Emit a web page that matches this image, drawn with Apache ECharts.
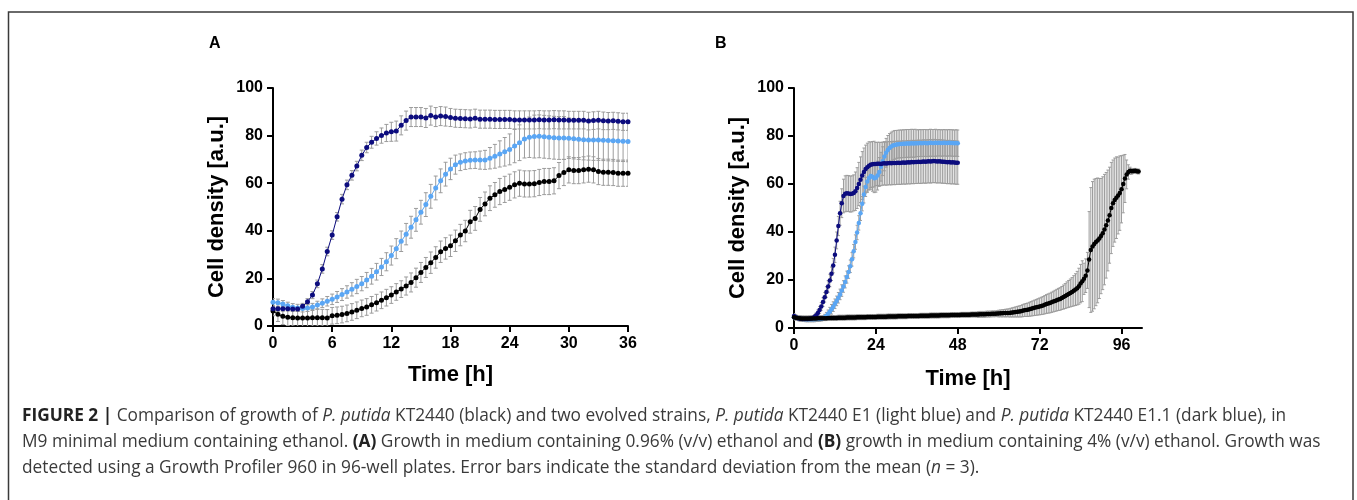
<!DOCTYPE html>
<html><head><meta charset="utf-8">
<script src="https://cdn.jsdelivr.net/npm/echarts@6/dist/echarts.min.js"></script>
<style>html,body{margin:0;padding:0;background:#fff}#c{width:1357px;height:500px}</style>
</head><body><div id="c"></div>
<script>
// ---------- Panel A (0.96% ethanol), sampled every 0.5 h ----------
const timeA = [
 0,0.5,1,1.5,2,2.5,3,3.5,4,4.5,5,5.5,
 6,6.5,7,7.5,8,8.5,9,9.5,10,10.5,11,11.5,
 12,12.5,13,13.5,14,14.5,15,15.5,16,16.5,17,17.5,
 18,18.5,19,19.5,20,20.5,21,21.5,22,22.5,23,23.5,
 24,24.5,25,25.5,26,26.5,27,27.5,28,28.5,29,29.5,
 30,30.5,31,31.5,32,32.5,33,33.5,34,34.5,35,35.5,
 36];
const darkA = [
 7.2,7.2,7.2,7.3,7.1,7.1,8.3,10.2,13.0,17.7,24.0,31.3,
 38.2,45.9,53.3,59.3,63.3,67.2,71.7,75.0,77.2,78.8,80.0,81.1,
 81.6,81.9,84.3,86.3,87.8,87.8,87.8,87.4,88.4,87.8,88.2,88.0,
 87.6,87.3,87.2,87.1,87.0,87.3,86.9,86.9,86.9,86.8,86.8,86.8,
 86.8,86.6,86.6,86.6,86.6,86.6,86.7,86.6,86.6,86.7,86.6,86.6,
 86.5,86.5,86.5,86.5,86.1,86.3,86.5,86.2,86.1,86.2,86.0,85.8,
 85.8];
const darkAErr = [
 1.0,1.0,1.0,1.0,1.0,1.0,1.2,1.3,1.5,1.6,1.8,1.8,
 1.8,1.8,2.0,2.0,2.0,2.0,2.2,2.2,2.5,2.8,3.2,3.6,
 4.0,4.2,4.0,4.0,4.0,4.0,4.0,4.0,4.0,4.0,4.0,4.0,
 3.8,3.8,3.8,3.8,3.8,3.8,3.8,3.8,3.8,3.8,3.8,3.8,
 3.8,3.8,3.8,3.8,3.8,3.8,3.8,3.8,3.8,3.8,3.8,3.8,
 3.7,3.7,3.7,3.7,3.7,3.7,3.7,3.7,3.6,3.6,3.6,3.6,
 3.6];
const lightA = [
 10.0,9.8,9.2,8.5,7.9,7.6,7.4,7.6,8.0,8.8,9.6,10.4,
 11.2,12.2,13.2,14.3,15.4,16.6,17.8,19.3,20.9,22.8,24.8,27.0,
 29.6,32.5,35.6,38.6,41.5,44.6,47.8,51.0,54.5,58.0,61.0,63.8,
 66.0,67.8,68.8,69.3,69.6,69.7,69.7,69.8,70.5,71.3,72.3,73.2,
 74.2,75.6,77.0,78.6,79.3,79.6,79.7,79.5,79.3,79.1,79.0,79.0,
 78.9,78.7,78.5,78.3,78.2,78.1,78.1,78.0,77.9,77.8,77.7,77.6,
 77.5];
const lightAErr = [
 1.5,1.5,1.5,1.5,1.5,1.5,1.5,1.5,1.5,1.6,1.8,2.0,
 2.2,2.3,2.5,2.6,2.8,3.0,3.0,3.2,3.3,3.5,3.6,3.8,
 4.0,4.2,4.3,4.5,4.6,4.8,5.0,5.0,5.0,5.0,5.0,5.0,
 4.5,4.0,3.5,3.5,3.5,3.5,3.8,4.0,4.5,5.0,5.5,6.0,
 6.5,7.0,7.5,8.0,8.5,9.0,9.0,9.0,9.0,9.0,9.0,9.0,
 8.5,8.5,8.5,8.5,8.5,8.5,8.5,8.5,8.5,8.5,8.5,8.5,
 8.5];
const blackA = [
 6.3,4.9,4.1,3.7,3.5,3.4,3.4,3.4,3.5,3.5,3.5,3.4,
 4.3,4.5,4.8,5.3,5.9,6.6,7.4,8.0,8.9,9.8,10.8,11.9,
 13.0,14.3,15.5,16.8,18.3,20.3,22.5,24.6,26.6,28.8,31.2,32.6,
 33.7,35.8,38.2,39.9,43.8,45.2,49.0,51.3,53.7,55.1,56.5,57.4,
 58.3,59.3,60.0,59.7,59.7,59.8,60.3,60.7,60.7,61.0,63.2,64.5,
 65.6,65.3,65.3,65.6,65.9,65.6,64.9,64.6,64.6,64.5,64.2,64.2,
 64.2];
const blackAErr = [
 2.0,3.0,3.5,3.5,3.5,3.5,3.5,3.5,3.5,3.5,3.5,3.5,
 3.5,3.5,3.5,3.5,3.5,3.5,3.5,3.5,3.5,3.5,3.5,3.5,
 3.5,3.5,3.5,3.8,4.0,4.0,4.2,4.2,4.5,4.5,4.5,4.5,
 4.5,4.5,4.5,4.5,4.8,5.0,5.0,5.0,5.2,5.2,5.5,5.5,
 5.5,5.5,5.5,5.5,5.5,5.5,5.5,5.5,5.5,5.5,5.5,5.5,
 5.5,5.5,5.5,5.5,5.5,5.5,5.5,5.5,5.5,5.5,5.5,5.5,
 5.5];

// ---------- Panel B (4% ethanol), sampled every 0.5 h ----------
const timeB = [
 0,0.5,1,1.5,2,2.5,3,3.5,4,4.5,5,5.5,
 6,6.5,7,7.5,8,8.5,9,9.5,10,10.5,11,11.5,
 12,12.5,13,13.5,14,14.5,15,15.5,16,16.5,17,17.5,
 18,18.5,19,19.5,20,20.5,21,21.5,22,22.5,23,23.5,
 24,24.5,25,25.5,26,26.5,27,27.5,28,28.5,29,29.5,
 30,30.5,31,31.5,32,32.5,33,33.5,34,34.5,35,35.5,
 36,36.5,37,37.5,38,38.5,39,39.5,40,40.5,41,41.5,
 42,42.5,43,43.5,44,44.5,45,45.5,46,46.5,47,47.5,
 48,48.5,49,49.5,50,50.5,51,51.5,52,52.5,53,53.5,
 54,54.5,55,55.5,56,56.5,57,57.5,58,58.5,59,59.5,
 60,60.5,61,61.5,62,62.5,63,63.5,64,64.5,65,65.5,
 66,66.5,67,67.5,68,68.5,69,69.5,70,70.5,71,71.5,
 72,72.5,73,73.5,74,74.5,75,75.5,76,76.5,77,77.5,
 78,78.5,79,79.5,80,80.5,81,81.5,82,82.5,83,83.5,
 84,84.5,85,85.5,86,86.5,87,87.5,88,88.5,89,89.5,
 90,90.5,91,91.5,92,92.5,93,93.5,94,94.5,95,95.5,
 96,96.5,97,97.5,98,98.5,99,99.5,100,100.5,101];
const darkB = [
 5.0,4.5,4.2,4.0,3.9,3.8,3.8,3.8,3.8,3.9,4.0,4.2,
 4.6,5.3,6.3,7.5,9.0,10.8,12.8,15.0,17.3,19.8,22.6,26.0,
 30.5,36.5,42.5,47.8,52.0,55.0,55.9,56.1,56.0,55.8,55.9,56.3,
 57.0,58.3,60.0,61.8,63.5,65.0,66.2,67.0,67.6,68.0,68.2,68.3,
 68.3,68.4,68.4,68.3,68.5,68.6,68.5,68.6,68.7,68.6,68.8,68.7,
 68.8,68.9,68.8,68.9,69.0,68.9,69.0,69.1,69.0,69.2,69.1,69.2,
 69.2,69.3,69.2,69.3,69.4,69.3,69.4,69.5,69.4,69.5,69.6,69.5,
 69.4,69.5,69.4,69.3,69.3,69.2,69.1,69.2,69.0,69.1,69.0,68.9,
 68.9];
const darkBErr = [
 1.0,1.0,1.0,1.0,1.0,1.0,1.0,1.0,1.0,1.0,1.0,1.0,
 1.0,1.0,1.2,1.4,1.6,1.8,2.0,2.2,2.4,2.6,2.8,3.0,
 3.2,3.5,4.0,5.0,6.0,7.0,7.5,7.5,7.5,7.5,7.5,7.5,
 8.0,8.5,9.0,9.5,10.0,10.0,10.0,10.0,10.0,9.5,9.5,9.5,
 9.0,9.0,9.0,9.0,9.0,9.0,9.0,9.0,9.0,9.0,9.0,9.0,
 9.0,9.0,9.0,9.0,9.0,9.0,9.0,9.0,9.0,9.0,9.0,9.0,
 9.0,9.0,9.0,9.0,9.0,9.0,9.0,9.0,9.0,9.0,9.0,9.0,
 9.0,9.0,9.0,9.0,9.0,9.0,9.0,9.0,9.0,9.0,9.0,9.0,
 9.0];
const lightB = [
 4.5,4.4,4.2,4.0,3.9,3.8,3.7,3.6,3.6,3.6,3.6,3.6,
 3.6,3.7,3.7,3.8,3.9,4.1,4.5,5.1,5.9,6.8,7.8,8.9,
 10.1,11.3,12.6,14.0,15.6,17.3,19.2,21.2,23.3,25.7,28.6,32.0,
 35.8,39.8,43.8,47.8,51.8,55.6,58.8,61.0,62.5,63.3,63.0,62.4,
 62.6,63.5,65.0,67.2,69.5,71.5,73.0,74.2,75.0,75.6,76.0,76.3,
 76.5,76.6,76.7,76.7,76.8,76.8,76.9,76.9,76.9,77.0,76.9,77.0,
 77.0,77.0,77.1,77.0,77.1,77.1,77.0,77.1,77.2,77.1,77.1,77.2,
 77.1,77.2,77.1,77.1,77.2,77.1,77.1,77.2,77.1,77.1,77.0,77.1,
 77.0];
const lightBErr = [
 1.0,1.0,1.0,1.0,1.0,1.0,1.0,1.0,1.0,1.0,1.0,1.0,
 1.0,1.0,1.0,1.0,1.0,1.0,1.2,1.4,1.6,1.8,2.0,2.0,
 2.0,2.0,2.2,2.2,2.4,2.4,2.5,2.5,2.6,2.6,2.8,2.8,
 3.0,3.0,3.0,3.0,3.0,3.5,4.0,4.5,5.0,5.5,6.0,6.0,
 6.0,6.0,6.0,6.0,6.0,6.0,6.0,6.0,6.0,6.0,6.0,6.0,
 5.8,5.8,5.8,5.8,5.8,5.8,5.8,5.8,5.8,5.8,5.8,5.8,
 5.6,5.6,5.6,5.6,5.6,5.6,5.6,5.6,5.6,5.6,5.6,5.6,
 5.5,5.5,5.5,5.5,5.5,5.5,5.5,5.5,5.5,5.5,5.5,5.5,
 5.5];
const blackB = [
 4.5,4.3,4.2,4.1,4.0,4.0,4.0,4.0,4.0,4.0,4.0,4.0,
 4.0,4.0,4.1,4.1,4.1,4.1,4.1,4.1,4.2,4.2,4.2,4.2,
 4.2,4.2,4.3,4.3,4.3,4.3,4.3,4.4,4.4,4.4,4.4,4.4,
 4.4,4.5,4.5,4.5,4.5,4.5,4.5,4.6,4.6,4.6,4.6,4.6,
 4.6,4.7,4.7,4.7,4.7,4.7,4.7,4.8,4.8,4.8,4.8,4.8,
 4.8,4.9,4.9,4.9,4.9,4.9,4.9,5.0,5.0,5.0,5.0,5.0,
 5.0,5.0,5.1,5.1,5.1,5.1,5.1,5.1,5.2,5.2,5.2,5.2,
 5.2,5.2,5.3,5.3,5.3,5.3,5.3,5.3,5.4,5.4,5.4,5.4,
 5.4,5.4,5.5,5.5,5.5,5.5,5.5,5.5,5.6,5.6,5.6,5.6,
 5.6,5.7,5.7,5.7,5.7,5.8,5.8,5.8,5.9,5.9,5.9,6.0,
 6.0,6.1,6.1,6.2,6.2,6.3,6.3,6.4,6.5,6.6,6.7,6.8,
 6.9,7.0,7.2,7.4,7.5,7.6,7.8,8.0,8.2,8.4,8.6,8.8,
 9.0,9.2,9.4,9.7,10.0,10.2,10.4,10.7,11.0,11.3,11.6,11.9,
 12.1,12.5,12.9,13.3,13.8,14.2,14.6,15.0,15.5,16.0,16.6,17.4,
 18.5,19.5,20.5,21.8,24.0,28.5,32.5,34.0,35.0,35.8,36.5,37.3,
 38.3,39.5,41.0,42.8,44.8,47.0,50.0,52.0,53.3,54.3,55.2,56.2,
 57.8,60.0,62.3,64.0,65.0,65.5,65.3,65.4,65.5,65.3,65.2];
const blackBErr = [
 1.0,1.0,1.0,1.0,1.0,1.0,1.0,1.0,1.0,1.0,1.0,1.0,
 1.0,1.0,1.0,1.0,1.0,1.0,1.0,1.0,1.0,1.0,1.0,1.0,
 1.0,1.0,1.0,1.0,1.0,1.0,1.0,1.0,1.0,1.0,1.0,1.0,
 1.0,1.0,1.0,1.0,1.0,1.0,1.0,1.0,1.0,1.0,1.0,1.0,
 1.0,1.0,1.0,1.0,1.0,1.0,1.0,1.0,1.0,1.0,1.0,1.0,
 1.0,1.0,1.0,1.0,1.0,1.0,1.0,1.0,1.0,1.0,1.0,1.0,
 1.0,1.0,1.0,1.0,1.0,1.0,1.0,1.0,1.0,1.0,1.0,1.0,
 1.0,1.0,1.0,1.0,1.0,1.0,1.0,1.0,1.0,1.0,1.0,1.0,
 1.0,1.0,1.0,1.0,1.0,1.0,1.0,1.0,1.0,1.0,1.0,1.0,
 1.2,1.2,1.2,1.2,1.2,1.2,1.2,1.2,1.2,1.2,1.2,1.2,
 1.4,1.4,1.5,1.5,1.6,1.6,1.7,1.8,1.9,2.0,2.1,2.2,
 2.3,2.4,2.5,2.6,2.7,2.8,2.9,3.0,3.1,3.2,3.3,3.4,
 3.5,3.6,3.7,3.8,3.9,4.0,4.1,4.2,4.3,4.4,4.5,4.6,
 4.7,4.8,5.0,5.2,5.4,5.6,5.8,6.0,6.3,6.6,7.0,7.5,
 8.0,8.5,6.5,7.0,7.5,20.0,26.0,27.0,27.0,26.5,26.0,25.0,
 24.0,23.5,23.0,22.0,21.0,20.0,19.0,18.0,17.5,17.0,16.0,15.5,
 14.0,12.0,10.0,6.0,3.0,1.5,1.2,1.0,1.0,1.0,1.0];

const xTicksA = [0, 6, 12, 18, 24, 30, 36];
const xTicksB = [0, 24, 48, 72, 96];
const yTicks = [0, 20, 40, 60, 80, 100];

const captionLines = [
 '{b|FIGURE 2 |} Comparison of growth of {i|P. putida} KT2440 (black) and two evolved strains, {i|P. putida} KT2440 E1 (light blue) and {i|P. putida} KT2440 E1.1 (dark blue), in',
 'M9 minimal medium containing ethanol. {b|(A)} Growth in medium containing 0.96% (v/v) ethanol and {b|(B)} growth in medium containing 4% (v/v) ethanol. Growth was',
 'detected using a Growth Profiler 960 in 96-well plates. Error bars indicate the standard deviation from the mean ({i|n} = 3).'
];

// ---------- build ----------
const C_DARK = '#0c0c7e', C_LIGHT = '#5aa6f4', C_BLACK = '#000000', C_ERR = '#9c9c9c';
const FONT = 'Liberation Sans, Arial, sans-serif';
const CAP_FONT = 'Open Sans, Liberation Sans, sans-serif';

function pts(t, v) { return t.map((x, i) => [x, v[i]]); }
function errPts(t, v, e) { return t.map((x, i) => [x, v[i], e[i]]); }

function errSeries(idx, t, v, e, cap) {
  return {
    type: 'custom', xAxisIndex: idx, yAxisIndex: idx, z: 1, silent: true, clip: true,
    data: errPts(t, v, e), encode: { x: 0, y: 1 },
    renderItem: function (params, api) {
      const x = api.value(0), y = api.value(1), d = api.value(2);
      const a = api.coord([x, y + d]), b = api.coord([x, y - d]);
      const st = { stroke: C_ERR, lineWidth: 1, fill: null };
      return { type: 'group', children: [
        { type: 'line', shape: { x1: a[0], y1: a[1], x2: b[0], y2: b[1] }, style: st },
        { type: 'line', shape: { x1: a[0] - cap, y1: a[1], x2: a[0] + cap, y2: a[1] }, style: st },
        { type: 'line', shape: { x1: b[0] - cap, y1: b[1], x2: b[0] + cap, y2: b[1] }, style: st }
      ] };
    }
  };
}
function lineSeries(idx, t, v, color, size) {
  return {
    type: 'line', xAxisIndex: idx, yAxisIndex: idx, z: 3, silent: true,
    data: pts(t, v), symbol: 'circle', symbolSize: size, showSymbol: true,
    lineStyle: { color: color, width: 1 }, itemStyle: { color: color },
    emphasis: { disabled: true }
  };
}
function xAxis(idx, max, ticks, interval, gap) {
  return {
    type: 'value', gridIndex: idx, min: 0, max: max, interval: interval,
    name: 'Time [h]', nameLocation: 'middle', nameGap: gap,
    nameTextStyle: { fontFamily: FONT, fontWeight: 'bold', fontSize: 22, color: '#000' },
    axisLine: { show: true, onZero: false, lineStyle: { color: '#000', width: 2 } },
    axisTick: { show: true, length: 6, customValues: ticks, lineStyle: { color: '#000', width: 2 } },
    axisLabel: { customValues: ticks, margin: 10, fontFamily: FONT, fontWeight: 'bold', fontSize: 16, color: '#000' },
    splitLine: { show: false }
  };
}
function yAxis(idx) {
  return {
    type: 'value', gridIndex: idx, min: 0, max: 100, interval: 20,
    name: 'Cell density [a.u.]', nameLocation: 'middle', nameGap: 45, nameRotate: 90,
    nameTextStyle: { fontFamily: FONT, fontWeight: 'bold', fontSize: 22, color: '#000' },
    axisLine: { show: true, lineStyle: { color: '#000', width: 2 } },
    axisTick: { show: true, length: 6, customValues: yTicks, lineStyle: { color: '#000', width: 2 } },
    axisLabel: { customValues: yTicks, margin: 10, fontFamily: FONT, fontWeight: 'bold', fontSize: 16, color: '#000' },
    splitLine: { show: false }
  };
}

const capBase = { fontSize: 17.3, fontFamily: CAP_FONT, fill: '#3a3a3a' };
const graphics = [
  { type: 'rect', silent: true, shape: { x: 8.5, y: 12, width: 1344.5, height: 520 },
    style: { fill: 'none', stroke: '#3a3a3a', lineWidth: 1.5 } },
  { type: 'text', x: 209, y: 44, silent: true,
    style: { text: 'A', fontSize: 16, fontWeight: 'bold', fontFamily: FONT, fill: '#000', verticalAlign: 'middle' } },
  { type: 'text', x: 715, y: 44, silent: true,
    style: { text: 'B', fontSize: 16, fontWeight: 'bold', fontFamily: FONT, fill: '#000', verticalAlign: 'middle' } }
];
const capY = [416, 442, 468];
captionLines.forEach((line, i) => {
  graphics.push({ type: 'text', x: 22, y: capY[i], silent: true,
    style: Object.assign({ text: line, verticalAlign: 'middle',
      rich: {
        b: Object.assign({}, capBase, { fontWeight: 'bold', fill: '#222' }),
        i: Object.assign({}, capBase, { fontStyle: 'italic' })
      } }, capBase) });
});

const chart = echarts.init(document.getElementById('c'), null, { renderer: 'canvas' });
chart.setOption({
  animation: false,
  backgroundColor: '#ffffff',
  grid: [
    { left: 273, top: 88, width: 355, height: 238 },
    { left: 794, top: 88, width: 348, height: 240 }
  ],
  xAxis: [xAxis(0, 36, xTicksA, 6, 38), xAxis(1, 102, xTicksB, 24, 40)],
  yAxis: [yAxis(0), yAxis(1)],
  series: [
    errSeries(0, timeA, blackA, blackAErr, 2),
    errSeries(0, timeA, lightA, lightAErr, 2),
    errSeries(0, timeA, darkA, darkAErr, 2),
    lineSeries(0, timeA, blackA, C_BLACK, 5),
    lineSeries(0, timeA, lightA, C_LIGHT, 5),
    lineSeries(0, timeA, darkA, C_DARK, 5),
    errSeries(1, timeB, darkB, darkBErr, 1.5),
    errSeries(1, timeB, lightB, lightBErr, 1.5),
    errSeries(1, timeB, blackB, blackBErr, 1.5),
    lineSeries(1, timeB.slice(0, lightB.length), lightB, C_LIGHT, 4.5),
    lineSeries(1, timeB.slice(0, darkB.length), darkB, C_DARK, 4.5),
    lineSeries(1, timeB, blackB, C_BLACK, 4.5)
  ],
  graphic: graphics
});
</script></body></html>
